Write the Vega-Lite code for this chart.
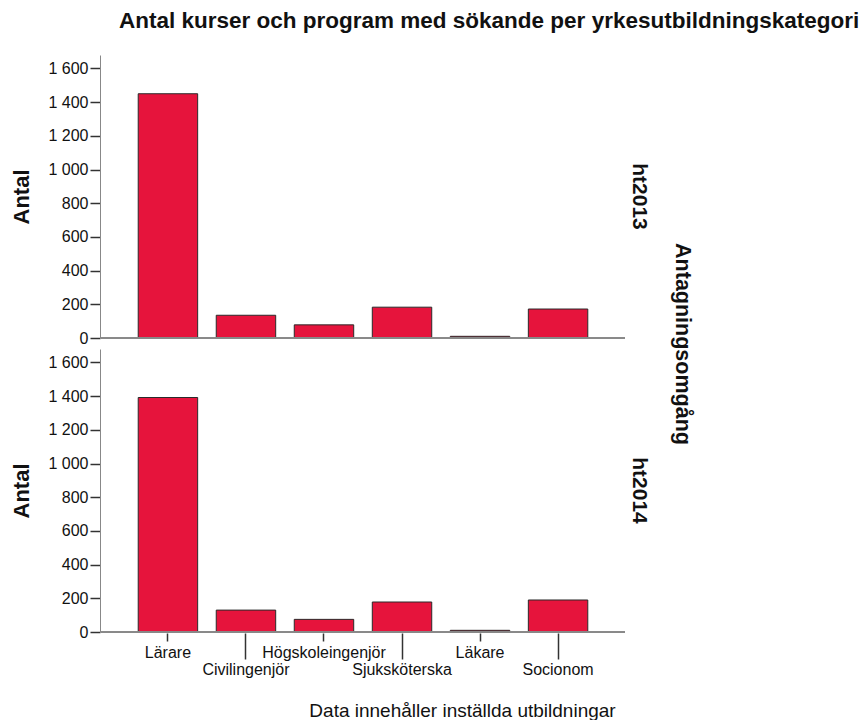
{
  "$schema": "https://vega.github.io/schema/vega-lite/v6.json",
  "background": "white",
  "padding": {"left": 10, "top": 9, "right": 5, "bottom": 0},
  "title": {
    "text": "Antal kurser och program med sökande per yrkesutbildningskategori",
    "font": "Liberation Sans",
    "fontSize": 22.5,
    "fontWeight": "bold",
    "color": "#111",
    "anchor": "start",
    "frame": "group",
    "dx": 18,
    "offset": 23
  },
  "data": {
    "values": [
      {"omg": "ht2013", "kat": "Lärare", "antal": 1450},
      {"omg": "ht2013", "kat": "Civilingenjör", "antal": 135},
      {"omg": "ht2013", "kat": "Högskoleingenjör", "antal": 78},
      {"omg": "ht2013", "kat": "Sjuksköterska", "antal": 183},
      {"omg": "ht2013", "kat": "Läkare", "antal": 10},
      {"omg": "ht2013", "kat": "Socionom", "antal": 172},
      {"omg": "ht2014", "kat": "Lärare", "antal": 1392},
      {"omg": "ht2014", "kat": "Civilingenjör", "antal": 130},
      {"omg": "ht2014", "kat": "Högskoleingenjör", "antal": 75},
      {"omg": "ht2014", "kat": "Sjuksköterska", "antal": 178},
      {"omg": "ht2014", "kat": "Läkare", "antal": 10},
      {"omg": "ht2014", "kat": "Socionom", "antal": 190}
    ]
  },
  "facet": {
    "row": {
      "field": "omg",
      "type": "nominal",
      "header": {
        "labelOrient": "right",
        "labelAngle": 90,
        "labelFont": "Liberation Sans",
        "labelFontSize": 21,
        "labelFontWeight": "bold",
        "labelColor": "#111",
        "labelPadding": 3,
        "title": "Antagningsomgång",
        "titleOrient": "right",
        "titleAngle": 90,
        "titleFont": "Liberation Sans",
        "titleFontSize": 21.5,
        "titleFontWeight": "bold",
        "titleColor": "#111",
        "titlePadding": 11
      }
    }
  },
  "spacing": {"row": 10},
  "spec": {
    "width": 524,
    "height": 283,
    "layer": [
      {
        "mark": {"type": "bar", "color": "#e6143c", "stroke": "#2a2a2a", "strokeWidth": 1},
        "encoding": {
          "x": {
            "field": "kat",
            "type": "nominal",
            "sort": ["Lärare", "Civilingenjör", "Högskoleingenjör", "Sjuksköterska", "Läkare", "Socionom"],
            "scale": {"paddingInner": 0.238, "paddingOuter": 0.477},
            "axis": {
              "title": "Data innehåller inställda utbildningar",
              "titleFont": "Liberation Sans",
              "titleFontSize": 19,
              "titleFontWeight": "normal",
              "titleColor": "#111",
              "titlePadding": 24,
              "titleX": 361,
              "titleAlign": "center",
              "labelAngle": 0,
              "labelFont": "Liberation Sans",
              "labelFontSize": 16,
              "labelColor": "#111",
              "labelBaseline": "top",
              "labelOverlap": false,
              "domain": false,
              "tickColor": "#333",
              "tickWidth": 1.5,
              "tickSize": {"condition": {"test": "indexof(['Civilingenjör','Sjuksköterska','Socionom'], datum.value) >= 0", "value": 26}, "value": 8},
              "labelPadding": {"condition": {"test": "indexof(['Civilingenjör','Sjuksköterska','Socionom'], datum.value) >= 0", "value": 2}, "value": 3}
            }
          },
          "y": {
            "field": "antal",
            "type": "quantitative",
            "scale": {"domain": [0, 1680], "nice": false},
            "axis": {
              "title": "Antal",
              "titleFont": "Liberation Sans",
              "titleFontSize": 22,
              "titleFontWeight": "bold",
              "titleColor": "#111",
              "titlePadding": 14,
              "values": [0, 200, 400, 600, 800, 1000, 1200, 1400, 1600],
              "labelExpr": "replace(format(datum.value, ','), ',', ' ')",
              "labelFont": "Liberation Sans",
              "labelFontSize": 16,
              "labelColor": "#111",
              "labelPadding": 2,
              "labelOverlap": false,
              "labelBound": false,
              "tickSize": 10,
              "tickColor": "#333",
              "tickWidth": 1.5,
              "domainColor": "#888",
              "grid": false
            }
          }
        }
      },
      {
        "mark": {"type": "rule", "color": "#888", "strokeWidth": 1},
        "encoding": {
          "y": {
            "datum": 0,
            "type": "quantitative",
            "axis": {
              "title": "Antal",
              "titleFont": "Liberation Sans",
              "titleFontSize": 22,
              "titleFontWeight": "bold",
              "titleColor": "#111",
              "titlePadding": 14,
              "values": [0, 200, 400, 600, 800, 1000, 1200, 1400, 1600],
              "labelExpr": "replace(format(datum.value, ','), ',', ' ')",
              "labelFont": "Liberation Sans",
              "labelFontSize": 16,
              "labelColor": "#111",
              "labelPadding": 2,
              "labelOverlap": false,
              "labelBound": false,
              "tickSize": 10,
              "tickColor": "#333",
              "tickWidth": 1.5,
              "domainColor": "#888",
              "grid": false
            }
          }
        }
      }
    ]
  },
  "config": {"view": {"stroke": null}}
}
